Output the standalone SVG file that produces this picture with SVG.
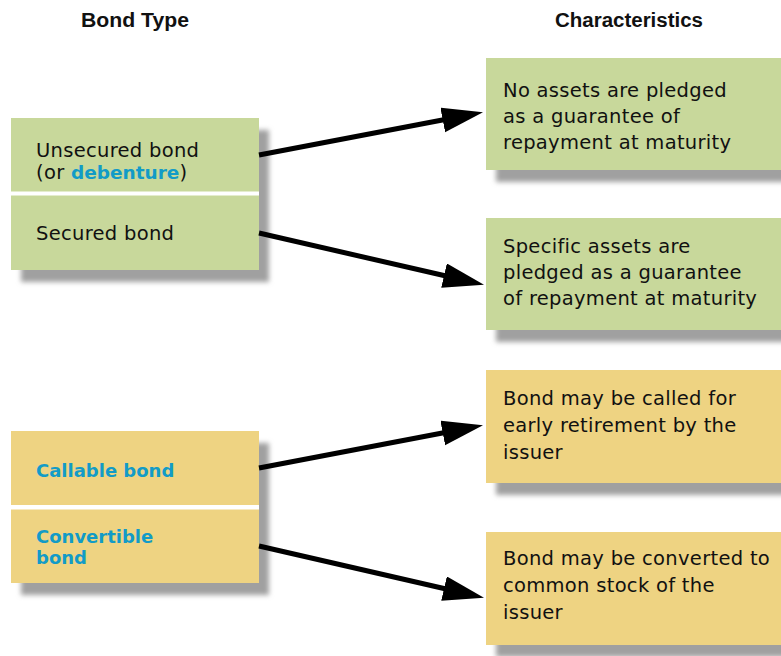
<svg xmlns="http://www.w3.org/2000/svg" width="781" height="656" viewBox="0 0 781 656">
<style>
.hdr{font-family:"Liberation Sans",Arial,sans-serif;font-weight:bold;font-size:20px;fill:#111;text-anchor:middle}
.t{font-family:"DejaVu Sans",Verdana,sans-serif;font-size:19.5px;fill:#111;letter-spacing:0.3px}
.b{font-family:"DejaVu Sans",Verdana,sans-serif;font-weight:bold;font-size:18px;fill:#129bc7}
.green{fill:#c8d89b}
.yellow{fill:#eed382}
.shadow{fill:#a0a0a0;filter:url(#blur)}
.sep{fill:#ffffff}
.conn{stroke:#000;stroke-width:5;fill:none;marker-end:url(#arrow)}
</style>
<defs>
<filter id="blur" x="-10%" y="-10%" width="120%" height="130%"><feGaussianBlur stdDeviation="2.5"/></filter>
<marker id="arrow" markerUnits="userSpaceOnUse" markerWidth="42" markerHeight="26" refX="1" refY="12.5" orient="auto">
<path d="M0,0 L41,12.5 L0,25 z" fill="#000"/>
</marker>
</defs>
<rect width="781" height="656" fill="#fff"/>
<g id="headers">
<text class="hdr" x="135" y="27" textLength="108" lengthAdjust="spacingAndGlyphs">Bond Type</text>
<text class="hdr" x="629" y="27" textLength="148" lengthAdjust="spacingAndGlyphs">Characteristics</text>
</g>
<g id="node-secured-group">
<rect class="shadow" x="21" y="130" width="248" height="152"/>
<rect class="green" x="11" y="118" width="248" height="152"/>
<rect class="sep" x="11" y="191.5" width="248" height="4"/>
<g id="node-unsecured">
<text class="t" x="36" y="157">Unsecured bond</text>
<text class="t" x="36" y="179">(or <tspan class="b" style="font-size:18.5px;letter-spacing:0">debenture</tspan>)</text>
</g>
<g id="node-secured">
<text class="t" x="36" y="240">Secured bond</text>
</g>
</g>
<g id="node-no-assets">
<rect class="shadow" x="496" y="70" width="292" height="112"/>
<rect class="green" x="486" y="58" width="295" height="112"/>
<text class="t" x="503" y="97">No assets are pledged</text>
<text class="t" x="503" y="123">as a guarantee of</text>
<text class="t" x="503" y="149">repayment at maturity</text>
</g>
<g id="node-specific-assets">
<rect class="shadow" x="496" y="230" width="292" height="112"/>
<rect class="green" x="486" y="218" width="295" height="112"/>
<text class="t" x="503" y="253">Specific assets are</text>
<text class="t" x="503" y="279">pledged as a guarantee</text>
<text class="t" x="503" y="305">of repayment at maturity</text>
</g>
<g id="node-callable-group">
<rect class="shadow" x="21" y="443" width="248" height="152"/>
<rect class="yellow" x="11" y="431" width="248" height="152"/>
<rect class="sep" x="11" y="505" width="248" height="4.5"/>
<g id="node-callable">
<text class="b" x="36" y="477">Callable bond</text>
</g>
<g id="node-convertible">
<text class="b" x="36" y="543">Convertible</text>
<text class="b" x="36" y="564">bond</text>
</g>
</g>
<g id="node-called">
<rect class="shadow" x="496" y="382" width="292" height="113"/>
<rect class="yellow" x="486" y="370" width="295" height="113"/>
<text class="t" x="503" y="405">Bond may be called for</text>
<text class="t" x="503" y="432">early retirement by the</text>
<text class="t" x="503" y="459">issuer</text>
</g>
<g id="node-converted">
<rect class="shadow" x="496" y="544" width="292" height="113"/>
<rect class="yellow" x="486" y="532" width="295" height="113"/>
<text class="t" x="503" y="565">Bond may be converted to</text>
<text class="t" x="503" y="592">common stock of the</text>
<text class="t" x="503" y="619">issuer</text>
</g>
<g id="connectors">
<line class="conn" x1="259" y1="155" x2="443.7" y2="119.7"/>
<line class="conn" x1="259" y1="233" x2="445" y2="275.8"/>
<line class="conn" x1="259" y1="468" x2="443.7" y2="432.7"/>
<line class="conn" x1="259" y1="546" x2="445" y2="588.8"/>
</g>
</svg>
